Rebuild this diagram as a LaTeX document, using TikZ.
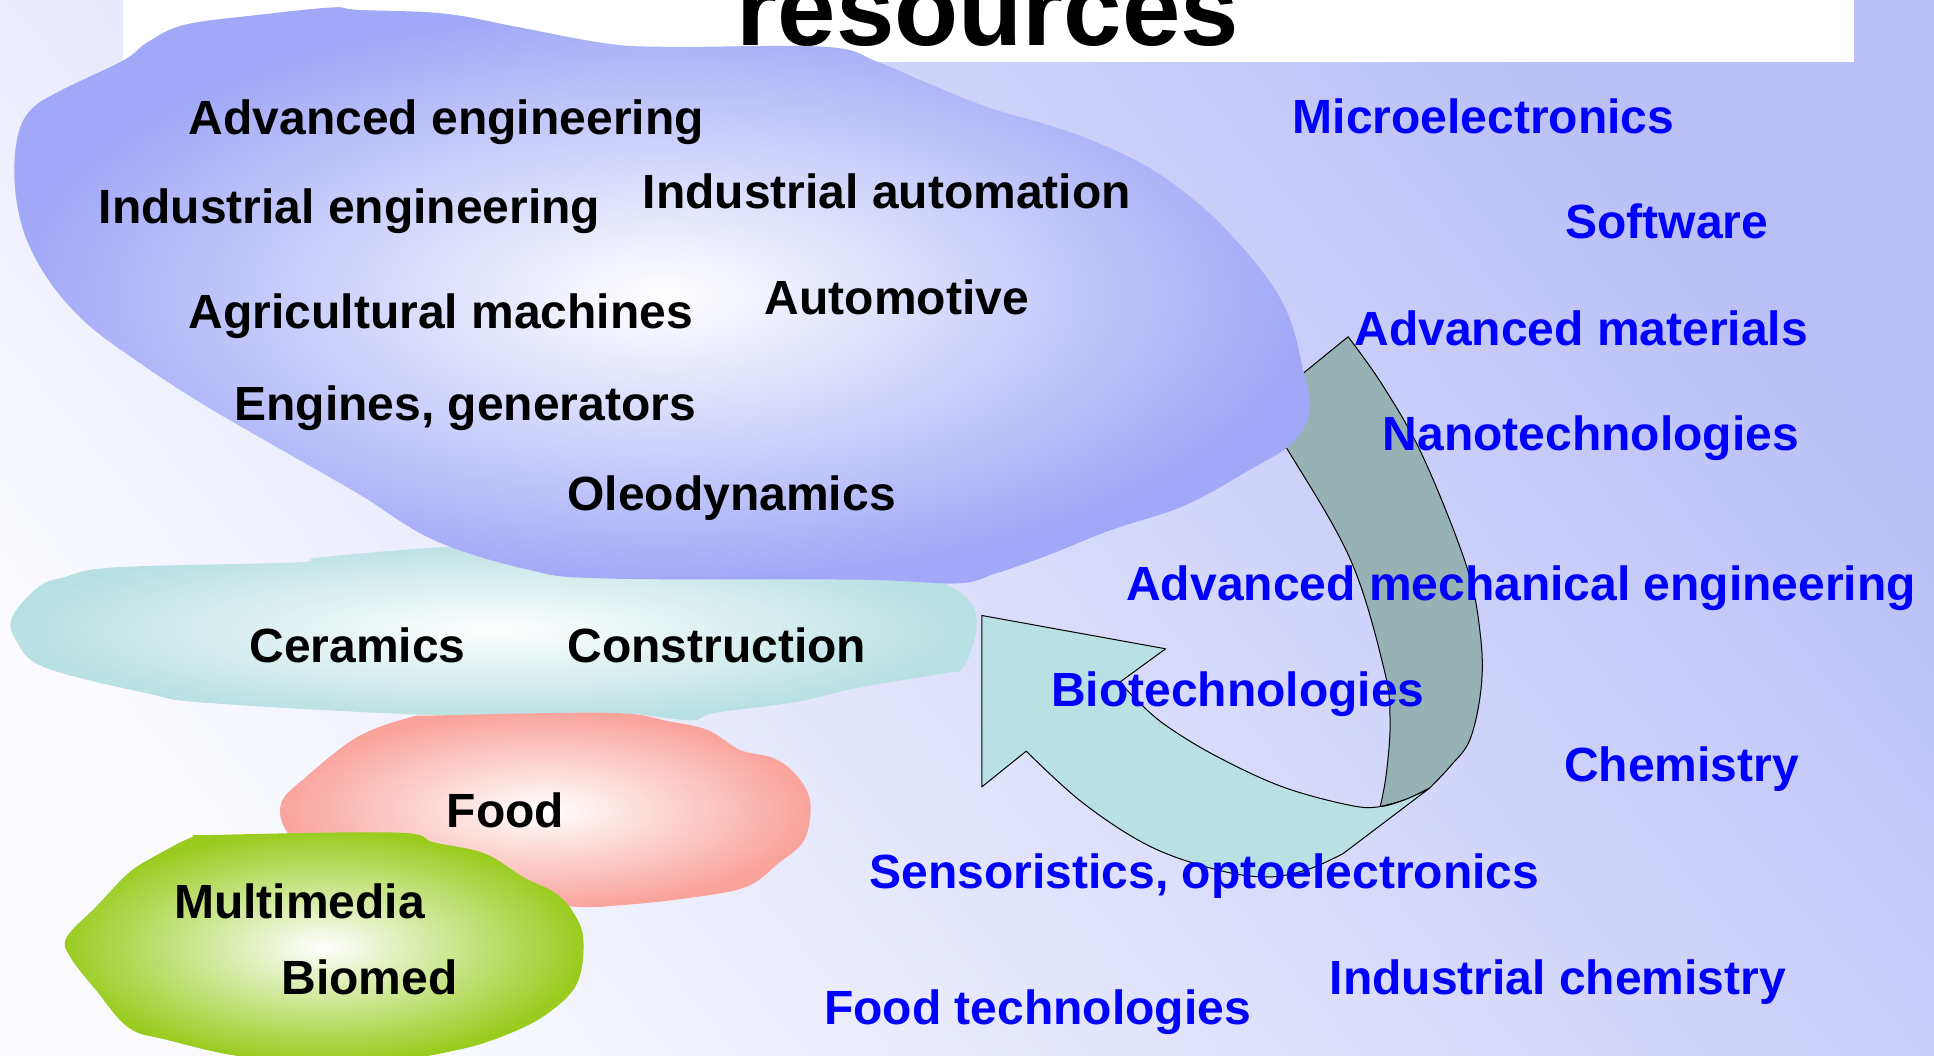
\documentclass[tikz,border=0pt]{standalone}
\usepackage{fontspec}
\setmainfont{Liberation Sans}
\definecolor{bgtop}{RGB}{186,192,247}
\definecolor{bgbot}{RGB}{250,250,255}
\definecolor{mechblue}{RGB}{160,168,247}
\definecolor{ceramcyan}{RGB}{184,224,226}
\definecolor{foodred}{RGB}{249,163,155}
\definecolor{mediagreen}{RGB}{153,204,31}
\definecolor{arrowdark}{RGB}{150,178,180}
\definecolor{arrowlight}{RGB}{185,224,227}

\begin{document}
\begin{tikzpicture}
  [x=1.2334pt, y=-1.2334pt,
   sector/.style={font=\fontsize{48}{56}\selectfont\bfseries, text=black, inner sep=0pt, anchor=base west},
   tech/.style={sector, text=blue},
   outline/.style={draw=black, line width=1pt, line join=round}]
  \useasboundingbox (0,0) rectangle (1568,856);
  \clip (0,0) rectangle (1568,856);
  % background
  \shade[bottom color=bgbot, top color=bgtop, shading angle=-50] (0,0) rectangle (1568,856);
  \fill[white] (100,0) rectangle (1503,50);
  % curved arrow, back part
  \path[fill=arrowdark, outline] (1018,334) -- (1093,273)
    -- plot[smooth, tension=0.6] coordinates {(1093,273) (1122,314) (1154,371) (1189,459) (1200,513) (1201,556) (1192,599) (1176,621) (1159,639)}
    -- plot[smooth, tension=0.6] coordinates {(1159,639) (1140,648) (1119,654)}
    -- plot[smooth, tension=0.6] coordinates {(1119,654) (1124,627) (1127,584) (1122,542) (1095,454) (1046,368) (1025,338)}
    -- cycle;
  % curved arrow, front part
  \path[fill=arrowlight, outline]
    plot[smooth, tension=0.6] coordinates {(1159,639) (1140,648) (1119,654) (1095,653) (1040,638) (986,613) (945,588) (922,568) (908,553)}
    -- (945,526) -- (796,499) -- (796,638) -- (832,609)
    -- plot[smooth, tension=0.6] coordinates {(832,609) (878,651) (932,686) (986,705) (1027,711) (1060,705) (1089,692)}
    -- cycle;
  % clouds
  \shade[inner color=white, outer color=ceramcyan]
    plot[smooth cycle, tension=0.6] coordinates {(10,500) (31,476) (52,468) (93,460) (238,456) (259,452) (352,444) (450,440) (600,440) (720,455) (771,476) (789,492) (791,513) (781,541) (765,546) (698,557) (646,569) (579,578) (559,584) (496,578) (362,580) (170,570) (119,562) (36,541) (13,519)};
  \shade[inner color=white, outer color=mechblue]
    plot[smooth cycle, tension=0.6] coordinates {(270,6) (290,8) (360,11) (420,22) (490,35) (540,38) (670,38) (711,50) (751,67) (801,87) (870,108) (930,135) (975,168) (1005,198) (1032,232) (1047,262) (1056,298) (1062,332) (1048,359) (1013,381) (960,410) (900,430) (850,450) (807,465) (776,473) (698,470) (491,469) (429,462) (352,438) (290,400) (220,360) (160,325) (110,292) (70,262) (40,228) (20,190) (12,150) (14,112) (25,89) (50,73) (100,49) (120,34) (150,20) (210,12)};
  \shade[inner color=white, outer color=foodred]
    plot[smooth cycle, tension=0.6] coordinates {(289,598) (331,582) (357,580) (496,578) (543,585) (574,592) (600,608) (628,615) (647,630) (657,651) (652,681) (631,700) (605,719) (559,728) (502,734) (465,735) (380,728) (260,700) (233,675) (228,651) (248,630)};
  \shade[inner color=white, outer color=mediagreen]
    plot[smooth cycle, tension=0.6] coordinates {(155,679) (171,677) (321,675) (352,683) (393,692) (424,711) (450,724) (465,740) (473,762) (468,797) (445,821) (413,838) (372,851) (310,860) (207,858) (135,843) (104,833) (78,803) (57,776) (54,760) (78,735) (104,708) (124,695)};
  % title
  \node (title) at (801,36.5) [anchor=base, inner sep=0pt, font=\fontsize{105}{110}\selectfont\bfseries] {resources};
  % sectors
  \node (adveng) at (153,109) [sector] {Advanced engineering};
  \node (indeng) at (80,181) [sector] {Industrial engineering};
  \node (indaut) at (521,169) [sector] {Industrial automation};
  \node (agri) at (153,266) [sector] {Agricultural machines};
  \node (auto) at (620,255) [sector] {Automotive};
  \node (engines) at (190,341) [sector] {Engines, generators};
  \node (oleo) at (460,414) [sector] {Oleodynamics};
  \node (ceram) at (202,537) [sector] {Ceramics};
  \node (constr) at (460,537) [sector] {Construction};
  \node (food) at (362,671) [sector] {Food};
  \node (media) at (141,745) [sector] {Multimedia};
  \node (biomed) at (228,806) [sector] {Biomed};
  % technologies
  \node (micro) at (1048,108) [tech] {Microelectronics};
  \node (soft) at (1269,193) [tech] {Software};
  \node (advmat) at (1098,280) [tech] {Advanced materials};
  \node (nano) at (1121,365) [tech] {Nanotechnologies};
  \node (advmech) at (913,487) [tech] {Advanced mechanical engineering};
  \node (biotech) at (852,573) [tech] {Biotechnologies};
  \node (chem) at (1268,634) [tech] {Chemistry};
  \node (sensor) at (705,720) [tech] {Sensoristics, optoelectronics};
  \node (indchem) at (1078,806) [tech] {Industrial chemistry};
  \node (foodtech) at (668,831) [tech] {Food technologies};
\end{tikzpicture}
\end{document}
